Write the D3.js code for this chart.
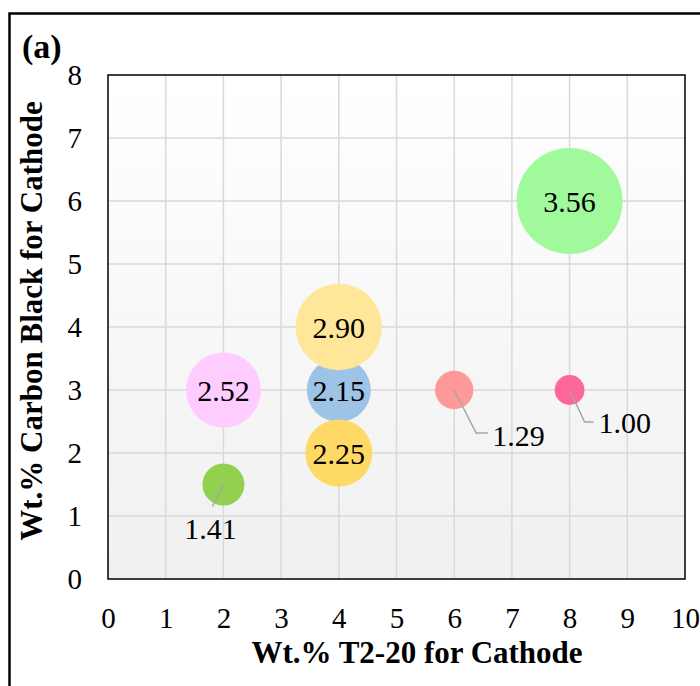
<!DOCTYPE html>
<html>
<head>
<meta charset="utf-8">
<script src="https://cdn.jsdelivr.net/npm/d3@7"></script>
<style>
  body { margin: 0; background: #fff; }
  svg { display: block; }
</style>
</head>
<body>
<div class="chart"></div>
<script>
// bubble data
const t220 = [4, 4, 4, 2, 2, 6, 8, 8];          // x: wt.% T2-20
const carbon = [3, 4, 2, 3, 1.5, 3, 3, 6];      // y: wt.% carbon black
const values = [2.15, 2.90, 2.25, 2.52, 1.41, 1.29, 1.00, 3.56];
const colors = ["#9dc3e6", "#ffe699", "#ffd966", "#ffccff", "#92d050", "#ff9999", "#ff6699", "#a0fa9c"];
const xTicks = [0, 1, 2, 3, 4, 5, 6, 7, 8, 9, 10];
const yTicks = [0, 1, 2, 3, 4, 5, 6, 7, 8];

// callout offsets for the small bubbles (label pulled out with a leader)
const callouts = {
  1.41: {pts: [[0, 0], [-11, 22]], tx: -13, ty: 54, anchor: "middle"},
  1.29: {pts: [[0, 0], [22, 43], [34, 43]], tx: 38, ty: 56, anchor: "start"},
  1.00: {pts: [[0, 0], [15, 32], [24, 32]], tx: 29, ty: 43, anchor: "start"}
};

const W = 700, H = 686;
const margin = {top: 75, right: 15, bottom: 107, left: 108};
const width = W - margin.left - margin.right,
      height = H - margin.top - margin.bottom;
const serif = "'Liberation Serif', 'Times New Roman', serif";

const svg = d3.select(".chart").append("svg")
    .attr("width", W)
    .attr("height", H);

// outer frame (runs off the right and bottom edge)
svg.append("rect")
    .attr("x", 9.5).attr("y", 13.5)
    .attr("width", 720).attr("height", 700)
    .attr("fill", "none")
    .attr("stroke", "#000")
    .attr("stroke-width", 2.5);

const defs = svg.append("defs");
const grad = defs.append("linearGradient")
    .attr("id", "bg").attr("x1", 0).attr("y1", 0).attr("x2", 0).attr("y2", 1);
grad.append("stop").attr("offset", "0%").attr("stop-color", "#ffffff");
grad.append("stop").attr("offset", "100%").attr("stop-color", "#f0f0f0");

const g = svg.append("g")
    .attr("transform", "translate(" + margin.left + "," + margin.top + ")");

const x = d3.scaleLinear().domain([0, 10]).range([0, width]);
const y = d3.scaleLinear().domain([0, 8]).range([height, 0]);
const r = d3.scaleLinear().domain([0, d3.max(values)]).range([0, 53]);

g.append("rect")
    .attr("width", width).attr("height", height)
    .attr("fill", "url(#bg)");

// gridlines
g.append("g")
    .selectAll("line.vx")
    .data(xTicks.slice(1, -1))
    .enter().append("line")
    .attr("x1", d => x(d)).attr("x2", d => x(d))
    .attr("y1", 0).attr("y2", height)
    .attr("stroke", "#d9d9d9").attr("stroke-width", 1.5);
g.append("g")
    .selectAll("line.hy")
    .data(yTicks.slice(1, -1))
    .enter().append("line")
    .attr("x1", 0).attr("x2", width)
    .attr("y1", d => y(d)).attr("y2", d => y(d))
    .attr("stroke", "#d9d9d9").attr("stroke-width", 1.5);

// axes: labels only, no tick marks
const xAxis = g.append("g")
    .attr("transform", "translate(0," + height + ")")
    .call(d3.axisBottom(x).tickValues(xTicks).tickSize(0).tickPadding(28));
const yAxis = g.append("g")
    .call(d3.axisLeft(y).tickValues(yTicks).tickSize(0).tickPadding(26));
[xAxis, yAxis].forEach(a => {
  a.attr("font-size", 29);
  a.select(".domain").remove();
  a.selectAll("text").attr("fill", "#000");
});

const points = values.map((v, i) => ({v: v, x: t220[i], y: carbon[i], c: colors[i]}));

// bubbles
g.append("g")
    .selectAll("circle")
    .data(points)
    .enter().append("circle")
    .attr("cx", d => x(d.x))
    .attr("cy", d => y(d.y))
    .attr("r", d => r(d.v))
    .attr("fill", d => d.c);

// leaders
g.append("g")
    .selectAll("polyline")
    .data(points.filter(d => callouts[d.v]))
    .enter().append("polyline")
    .attr("points", d => callouts[d.v].pts.map(p => (x(d.x) + p[0]) + "," + (y(d.y) + p[1])).join(" "))
    .attr("fill", "none")
    .attr("stroke", "#a6a6a6")
    .attr("stroke-width", 1.5);

// value labels
g.append("g")
    .selectAll("text")
    .data(points)
    .enter().append("text")
    .attr("x", d => callouts[d.v] ? x(d.x) + callouts[d.v].tx : x(d.x))
    .attr("y", d => callouts[d.v] ? y(d.y) + callouts[d.v].ty : y(d.y) + 11)
    .attr("text-anchor", d => callouts[d.v] ? callouts[d.v].anchor : "middle")
    .attr("font-size", 30)
    .text(d => d.v.toFixed(2));

// plot border
g.append("rect")
    .attr("width", width).attr("height", height)
    .attr("fill", "none")
    .attr("stroke", "#000")
    .attr("stroke-width", 1.5);

// titles
svg.append("text")
    .attr("x", 417).attr("y", 663)
    .attr("text-anchor", "middle")
    .attr("font-size", 31)
    .attr("font-weight", "bold")
    .text("Wt.% T2-20 for Cathode");

svg.append("text")
    .attr("transform", "translate(42,321) rotate(-90)")
    .attr("text-anchor", "middle")
    .attr("font-size", 31)
    .attr("font-weight", "bold")
    .text("Wt.% Carbon Black for Cathode");

svg.append("text")
    .attr("x", 22).attr("y", 58)
    .attr("font-size", 34)
    .attr("font-weight", "bold")
    .text("(a)");

// serif everywhere, black text
svg.selectAll("text")
    .style("font-family", serif)
    .style("fill", "#000");
</script>
</body>
</html>
